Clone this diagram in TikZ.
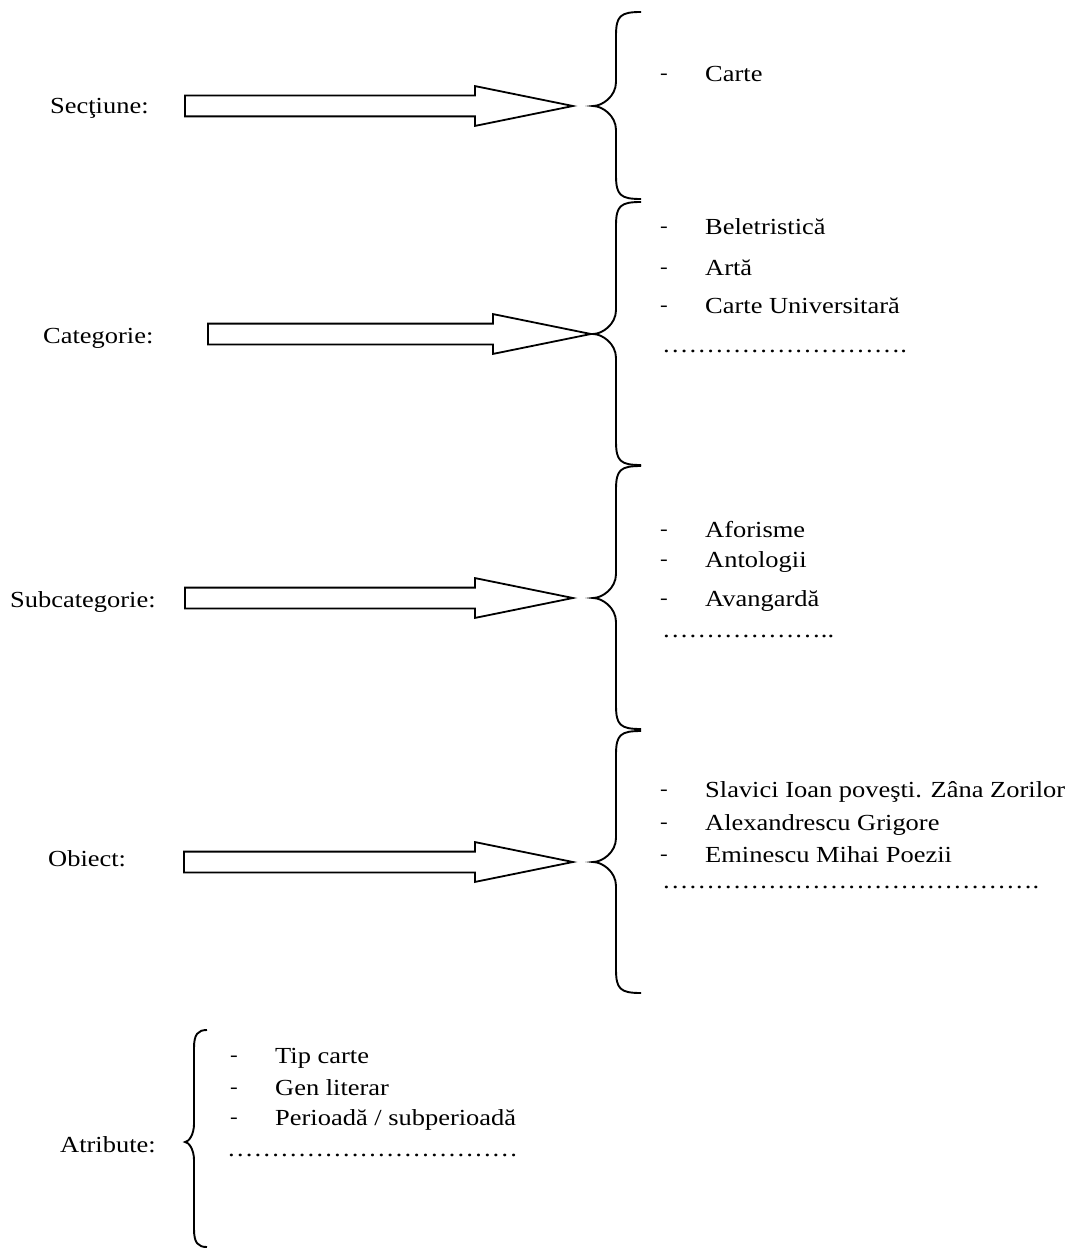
\documentclass[tikz,border=0pt]{standalone}
\usepackage{fontspec}
\setmainfont{Liberation Serif}[FakeStretch=1.15]
\usetikzlibrary{shapes.arrows, positioning}

% acolada: x varf, x linie, x capete, y sus, y varf, y jos, raza
\newcommand{\acolada}[7]{%
  \draw[acoladalinie] (#3,#4) .. controls (#2+4,#4) and (#2,#4+4) .. (#2,#4+#7) -- (#2,#5-#7)
    .. controls (#2,{#5-0.4*#7}) and ({#1+0.4*(#2-#1)},#5) .. (#1,#5)
    .. controls ({#1+0.4*(#2-#1)},#5) and (#2,{#5+0.4*#7}) .. (#2,#5+#7)
    -- (#2,#6-#7) .. controls (#2,#6-4) and (#2+4,#6) .. (#3,#6);}

\begin{document}
\begin{tikzpicture}[x=1pt, y=-1pt,
    eticheta/.style={font=\fontsize{23}{28}\selectfont, anchor=base west, inner sep=0pt},
    liniuta/.style={font=\fontsize{20}{24}\selectfont, anchor=base west, inner sep=0pt},
    sageata/.style={draw, line width=1.8pt, shape=single arrow, single arrow tip angle=23,
      single arrow head extend=9.5pt, inner xsep=0pt, inner ysep=9.5pt, anchor=tail},
    acoladalinie/.style={line width=1.9pt}]
  \useasboundingbox (0,0) rectangle (1073,1249);

  % etichete din stanga
  \node[eticheta] (sectiune) at (50,114) {Secţiune:};
  \node[eticheta] (categorie) at (43,343) {Categorie:};
  \node[eticheta] (subcategorie) at (10,607) {Subcategorie:};
  \node[eticheta] (obiect) at (48,866) {Obiect:};
  \node[eticheta] (atribute) at (60,1152) {Atribute:};

  % sagetile
  \node[sageata, minimum height=388pt] (s1) at (184,106) {};
  \node[sageata, minimum height=383pt] (s2) at (207,334) {};
  \node[sageata, minimum height=388pt] (s3) at (184,598) {};
  \node[sageata, minimum height=389pt] (s4) at (183,862) {};

  % acoladele
  \acolada{593}{616}{641}{12}{106}{199}{24}
  \acolada{593}{616}{641}{202}{334}{465}{24}
  \acolada{593}{616}{641}{466}{598}{729}{24}
  \acolada{593}{616}{641}{731}{862}{993}{24}
  \acolada{185}{194}{207}{1030}{1142}{1247}{18}

  % listele
  \node[liniuta] (l0) at (660,80) {-};
  \node[eticheta] (carte) at (705,82) {Carte};

  \foreach \y/\t [count=\i] in {235/Beletristică, 275/Artă, 313/Carte Universitară} {
    \node[liniuta] (lc\i) at (660,\y-2) {-};
    \node[eticheta] (c\i) at (705,\y) {\t};
  }
  \node[eticheta] (cpuncte) at (662,352) {……………………….};

  \foreach \y/\t [count=\i] in {537/Aforisme, 567/Antologii, 606/Avangardă} {
    \node[liniuta] (ls\i) at (660,\y-2) {-};
    \node[eticheta] (sc\i) at (705,\y) {\t};
  }
  \node[eticheta] (spuncte) at (662,637) {………………..};

  \foreach \y/\t [count=\i] in {797/Slavici Ioan poveşti. Zâna Zorilor, 830/Alexandrescu Grigore, 862/Eminescu Mihai Poezii} {
    \node[liniuta] (lo\i) at (660,\y-2) {-};
    \node[eticheta] (o\i) at (705,\y) {\t};
  }
  \node[eticheta] (opuncte) at (662,888) {…………………………………….};

  \foreach \y/\t [count=\i] in {1063/Tip carte, 1095/Gen literar, 1125/{Perioadă / subperioadă}} {
    \node[liniuta] (la\i) at (230,\y-2) {-};
    \node[eticheta] (a\i) at (275,\y) {\t};
  }
  \node[eticheta] (apuncte) at (227,1156) {……………………………};
\end{tikzpicture}
\end{document}
